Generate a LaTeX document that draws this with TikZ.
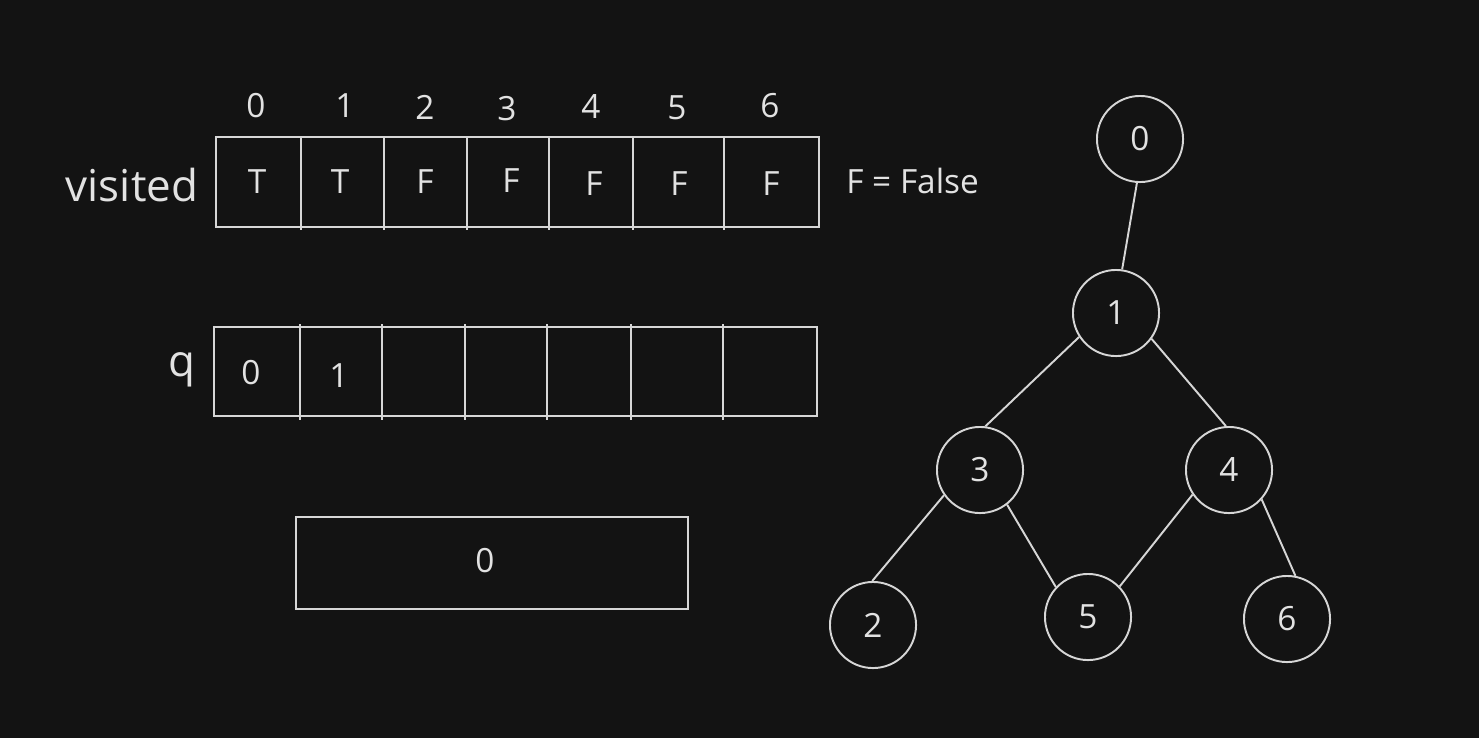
\documentclass[tikz,border=0pt]{standalone}
\usepackage{fontspec}
\setmainfont{Open Sans}
\definecolor{bg}{HTML}{131313}
\definecolor{ink}{HTML}{D6D6D6}
\definecolor{txt}{HTML}{E2E2E2}
\begin{document}
\begin{tikzpicture}[x=0.02cm,y=-0.02cm,
  line/.style={draw=ink,line width=1.1pt},
  lbl/.style={text=txt,inner sep=0pt,font=\fontsize{19}{22}\selectfont},
  biglbl/.style={text=txt,inner sep=0pt,font=\fontsize{25}{28}\selectfont},
  vnode/.style={circle,draw=ink,line width=1.1pt,minimum size=49pt,inner sep=0pt,
    text=txt,font=\fontsize{19}{22}\selectfont}]
\fill[bg] (0,0) rectangle (1479,738);
\useasboundingbox (0,0) rectangle (1479,738);

% visited array
\draw[line] (216,137) rectangle (819,227);
\foreach \x in {301,384,467,549,633,724} \draw[line] (\x,137) -- (\x,230);
\node[biglbl] (vlab) at (132,185) {visited};
\foreach \x/\y/\t [count=\i] in {257/182/T,340/182/T,425/182/F,511/181/F,594/184/F,679/184/F,771/184/F}
  \node[lbl] (v\i) at (\x,\y) {\t};
\foreach \x/\y/\t [count=\i] in {256/106/0,345/106/1,425/107/2,507/109/3,591/107/4,677/108/5,770/106/6}
  \node[lbl] (idx\i) at (\x,\y) {\t};
\node[lbl,anchor=west] (legend) at (846,181) {F = False};

% queue array
\draw[line] (214,327) rectangle (817,416);
\foreach \x in {300,382,465,547,631,723} \draw[line] (\x,324) -- (\x,420);
\node[biglbl] (qlab) at (182,370) {q};
\node[lbl] (q1) at (251,373) {0};
\node[lbl] (q2) at (339,376) {1};

% current element
\draw[line] (296,517) rectangle (688,609);
\node[lbl] (cur) at (485,561) {0};

% graph
\node[vnode] (n0) at (1140,139) {0};
\node[vnode] (n1) at (1116,313) {1};
\node[vnode] (n3) at (980,470) {3};
\node[vnode] (n4) at (1229,470) {4};
\node[vnode] (n2) at (873,625) {2};
\node[vnode] (n5) at (1088,617) {5};
\node[vnode] (n6) at (1287,619) {6};
\draw[line] (n0.266) -- (n1.82);
\draw[line] (n1.213) -- (n3.83);
\draw[line] (n1.324) -- (n4.94);
\draw[line] (n3.215) -- (n2.91);
\draw[line] (n3.308) -- (n5.137);
\draw[line] (n4.214) -- (n5.44);
\draw[line] (n4.318) -- (n6.79);
\end{tikzpicture}
\end{document}
